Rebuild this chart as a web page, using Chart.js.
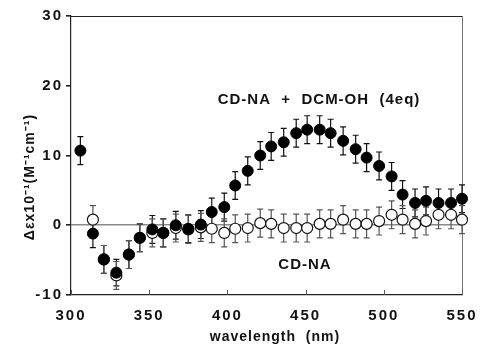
<!DOCTYPE html>
<html lang="en">
<head>
    <meta charset="UTF-8">
    <title>CD spectrum</title>
    <script src="https://cdnjs.cloudflare.com/ajax/libs/Chart.js/4.4.1/chart.umd.min.js"></script>
    <style>
        * { margin: 0; padding: 0; box-sizing: border-box; }
        body { background: #fff; }
        .chart-container { width: 483px; height: 346px; position: relative; }
    </style>
</head>
<body>
    <div class="chart-container">
        <canvas id="cdChart"></canvas>
    </div>

    <script>
        // wavelength (nm) of each measured point
        const wavelengths = [306, 314, 321, 329, 337, 344, 352, 359, 367, 375, 383,
                             390, 398, 405, 413, 421, 428, 436, 444, 451, 459, 466,
                             474, 482, 489, 497, 505, 512, 520, 527, 535, 543, 550];

        // CD-NA + DCM-OH (4eq), filled circles
        const withDcm = [10.7, -1.2, -4.9, -6.8, -4.2, -1.8, -0.6, -1.1, 0.0, -0.5, 0.1,
                         1.9, 2.6, 5.7, 7.8, 10.0, 11.3, 11.9, 13.2, 13.7, 13.7, 13.2,
                         12.1, 10.9, 9.7, 8.5, 7.0, 4.4, 3.2, 3.5, 3.2, 3.2, 3.8];
        const withDcmErr = [2.0, 2.0, 2.0, 1.9, 2.0, 2.0, 2.0, 2.0, 2.0, 2.0, 2.0,
                            2.0, 2.0, 2.0, 2.0, 2.0, 2.0, 2.0, 2.0, 2.0, 2.0, 2.0,
                            2.0, 2.0, 2.0, 2.0, 2.0, 2.0, 2.0, 2.0, 2.0, 2.0, 2.0];

        // CD-NA alone, open circles
        const cdNa = [null, 0.8, -4.9, -7.2, -4.2, -1.8, -1.1, -1.1, -0.4, -0.6, -0.3,
                      -0.5, -1.1, -0.5, -0.4, 0.3, 0.2, -0.4, -0.4, -0.4, 0.2, 0.2,
                      0.8, 0.2, 0.2, 0.6, 1.5, 0.8, 0.2, 0.6, 1.5, 1.5, 0.8];
        const cdNaErr = [2.0, 2.0, 2.0, 2.0, 2.0, 2.0, 2.0, 2.0, 2.0, 2.0, 2.0,
                         2.0, 2.0, 2.0, 2.0, 2.0, 2.0, 2.0, 2.0, 2.0, 2.0, 2.0,
                         2.0, 2.0, 2.0, 2.0, 2.0, 2.0, 2.0, 2.0, 2.0, 2.0, 2.0];

        const xTicks = [300, 350, 400, 450, 500, 550];

        const tickFont = { family: '"Liberation Sans", Arial, sans-serif', size: 15, weight: 'bold' };

        // error bars drawn under the markers
        const errorBars = {
            id: 'errorBars',
            beforeDatasetsDraw(chart) {
                const ctx = chart.ctx;
                const xs = chart.scales.x, ys = chart.scales.y;
                chart.data.datasets.forEach(ds => {
                    ctx.save();
                    ctx.strokeStyle = ds.errColor;
                    ctx.lineWidth = 1.2;
                    ds.data.forEach((p, i) => {
                        if (p.y === null) return;
                        const x = xs.getPixelForValue(p.x);
                        const y1 = ys.getPixelForValue(p.y - ds.err[i]);
                        const y2 = ys.getPixelForValue(p.y + ds.err[i]);
                        ctx.beginPath();
                        ctx.moveTo(x, y1); ctx.lineTo(x, y2);
                        ctx.moveTo(x - 3, y1); ctx.lineTo(x + 3, y1);
                        ctx.moveTo(x - 3, y2); ctx.lineTo(x + 3, y2);
                        ctx.stroke();
                    });
                    ctx.restore();
                });
            }
        };

        // frame, inward x ticks, titles and labels
        const decorations = {
            id: 'decorations',
            beforeDraw(chart) {
                chart.ctx.letterSpacing = '2px';
                const ctx = chart.ctx;
                const a = chart.chartArea;
                ctx.save();
                ctx.lineWidth = 1;
                ctx.strokeStyle = '#222';
                ctx.beginPath();
                ctx.moveTo(a.left, a.top + 0.5); ctx.lineTo(a.right, a.top + 0.5);
                ctx.stroke();
                ctx.strokeStyle = '#777';
                ctx.beginPath();
                ctx.moveTo(a.right + 0.5, a.top); ctx.lineTo(a.right + 0.5, a.bottom);
                ctx.stroke();
                ctx.restore();
            },
            afterDraw(chart) {
                const ctx = chart.ctx;
                const a = chart.chartArea;
                const xs = chart.scales.x;
                ctx.save();
                ctx.lineWidth = 1;
                ctx.strokeStyle = '#555';
                xTicks.forEach(v => {
                    const x = Math.round(xs.getPixelForValue(v)) + 0.5;
                    ctx.beginPath();
                    ctx.moveTo(x, a.bottom); ctx.lineTo(x, a.bottom - 5);
                    ctx.stroke();
                });

                ctx.fillStyle = '#111';
                ctx.textAlign = 'center';
                ctx.textBaseline = 'middle';
                ctx.letterSpacing = '1px';
                ctx.font = 'bold 14px "Liberation Sans", Arial, sans-serif';
                ctx.fillText('wavelength  (nm)', 275, 337);
                ctx.font = 'bold 15px "Liberation Sans", Arial, sans-serif';
                ctx.fillText('CD-NA  +  DCM-OH  (4eq)', 319, 100);
                ctx.fillText('CD-NA', 305, 265);

                ctx.translate(30, 177);
                ctx.rotate(-Math.PI / 2);
                ctx.letterSpacing = '1px';
                ctx.font = 'bold 14px "Liberation Sans", Arial, sans-serif';
                ctx.fillText('\u0394\u03b5x10\u207b\u00b9(M\u207b\u00b9cm\u207b\u00b9)', 0, 0);
                ctx.restore();
            }
        };

        new Chart(document.getElementById('cdChart'), {
            type: 'scatter',
            data: {
                datasets: [
                    {
                        label: 'CD-NA + DCM-OH (4eq)',
                        data: wavelengths.map((w, i) => ({ x: w, y: withDcm[i] })),
                        err: withDcmErr,
                        errColor: '#111',
                        pointRadius: 5.5,
                        pointBackgroundColor: '#000',
                        pointBorderColor: '#000',
                        pointBorderWidth: 1,
                        clip: false,
                        order: 0
                    },
                    {
                        label: 'CD-NA',
                        data: wavelengths.map((w, i) => ({ x: w, y: cdNa[i] })),
                        err: cdNaErr,
                        errColor: '#555',
                        pointRadius: 5.5,
                        pointBackgroundColor: '#fff',
                        pointBorderColor: '#111',
                        pointBorderWidth: 1.2,
                        clip: false,
                        order: 1
                    }
                ]
            },
            options: {
                responsive: true,
                maintainAspectRatio: false,
                animation: false,
                layout: { padding: { top: 16, right: 21, left: 0, bottom: 0 } },
                scales: {
                    x: {
                        type: 'linear',
                        min: 300,
                        max: 550,
                        afterFit: s => { s.height = 51; },
                        afterBuildTicks: s => { s.ticks = xTicks.map(v => ({ value: v })); },
                        grid: { display: false },
                        border: { display: true, color: '#222', width: 1.2 },
                        ticks: { font: tickFont, color: '#111', padding: 4, maxRotation: 0 }
                    },
                    y: {
                        min: -10,
                        max: 30,
                        afterFit: s => { s.width = 71; },
                        grid: {
                            color: c => c.tick && c.tick.value === 0 ? '#8a8a8a' : 'rgba(0,0,0,0)',
                            lineWidth: 1.6,
                            tickColor: '#222',
                            tickLength: 5,
                            drawTicks: true
                        },
                        border: { display: true, color: '#222', width: 1.2 },
                        ticks: { stepSize: 10, font: tickFont, color: '#111', padding: 3 }
                    }
                },
                plugins: {
                    legend: { display: false },
                    tooltip: { enabled: false }
                }
            },
            plugins: [errorBars, decorations]
        });
    </script>
</body>
</html>
